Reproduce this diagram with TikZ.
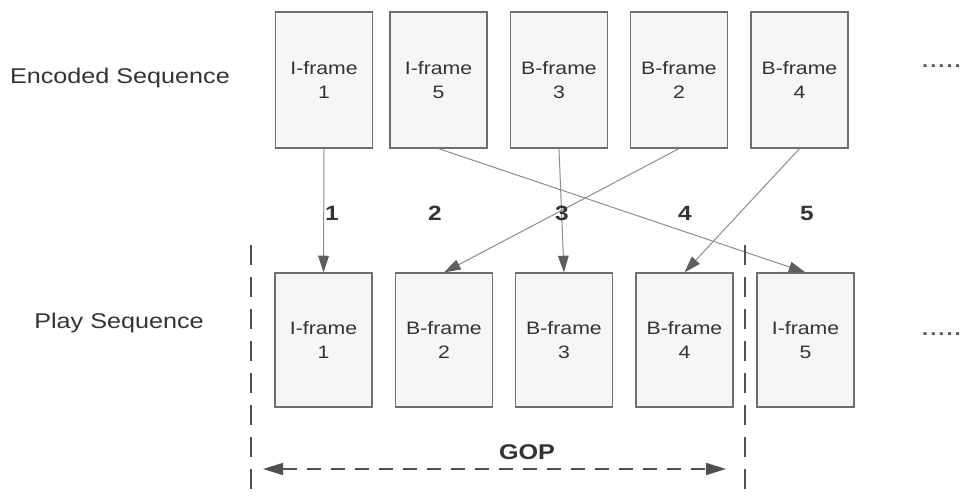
\documentclass[tikz,border=0pt]{standalone}
\usepackage{fontspec}
\setmainfont[FakeStretch=1.18]{Liberation Sans}
\usetikzlibrary{arrows.meta}
\definecolor{boxfill}{HTML}{F6F6F6}
\definecolor{boxline}{HTML}{6E6E6E}
\definecolor{linkline}{HTML}{8C8C8C}
\definecolor{headfill}{HTML}{5E5E5E}
\definecolor{ink}{HTML}{333333}
\definecolor{gopline}{HTML}{505050}
\definecolor{dotink}{HTML}{555555}

\begin{document}
\begin{tikzpicture}[x=0.75pt,y=-0.75pt,
  frame/.style={draw=boxline, line width=0.9pt, fill=boxfill,
    minimum width=72.75pt, inner sep=0pt, align=center, text=ink,
    font=\fontsize{13.5}{18.5}\selectfont},
  codedframe/.style={frame, minimum height=102pt},
  playframe/.style={frame, minimum height=100.5pt},
  link/.style={draw=linkline, line width=0.75pt,
    -{Triangle[length=12.5pt,width=8pt,color=headfill]}},
  order/.style={text=ink, font=\fontsize{15.5}{18}\selectfont\bfseries},
  rowlabel/.style={text=ink, font=\fontsize{16}{19}\selectfont},
  more/.style={text=dotink, anchor=east, inner sep=0pt,
    font=\fontsize{14}{16}\selectfont\bfseries},
  gopfence/.style={draw=gopline, line width=1.4pt, dash pattern=on 15pt off 9pt},
  gopspan/.style={draw=gopline, line width=1.1pt, dash pattern=on 10.5pt off 7.5pt,
    {Triangle[length=15pt,width=9pt]}-{Triangle[length=15pt,width=9pt]}},
]
\useasboundingbox (0,0) rectangle (964,500);

% encoded (transmission) order
\node[rowlabel] (enc) at (120,78) {Encoded Sequence};
\node[codedframe] (e1) at (324,80)   {I-frame\\1};
\node[codedframe] (e2) at (438.5,80) {I-frame\\5};
\node[codedframe] (e3) at (559,80)   {B-frame\\3};
\node[codedframe] (e4) at (679,80)   {B-frame\\2};
\node[codedframe] (e5) at (799.5,80) {B-frame\\4};
\node[more] (encmore) at (961,66) {.\kern1.5pt.\kern1.5pt.\kern1.5pt.\kern1.5pt.};

% display order
\node[rowlabel] (play) at (119,323) {Play Sequence};
\node[playframe] (p1) at (323.5,340) {I-frame\\1};
\node[playframe] (p2) at (444,340)   {B-frame\\2};
\node[playframe] (p3) at (564,340)   {B-frame\\3};
\node[playframe] (p4) at (684.5,340) {B-frame\\4};
\node[playframe] (p5) at (805.5,340) {I-frame\\5};
\node[more] (playmore) at (961,334) {.\kern1.5pt.\kern1.5pt.\kern1.5pt.\kern1.5pt.};

% reordering links
\draw[link] (e1.south) -- (p1.north);
\draw[link] (e2.south) -- (p5.north);
\draw[link] (e3.south) -- (p3.north);
\draw[link] (e4.south) -- (p2.north);
\draw[link] (e5.south) -- (p4.north);

% display positions
\node[order] (n1) at (332,213) {1};
\node[order] (n2) at (435,213) {2};
\node[order] (n3) at (562,213) {3};
\node[order] (n4) at (685,213) {4};
\node[order] (n5) at (807,213) {5};

% group of pictures
\coordinate (gopTL) at (251,245);
\coordinate (gopBL) at (251,500);
\coordinate (gopTR) at (745,245);
\coordinate (gopBR) at (745,500);
\draw[gopfence] (gopTL) -- (gopBL);
\draw[gopfence] (gopTR) -- (gopBR);
\coordinate (spanL) at (263,469);
\coordinate (spanR) at (726,469);
\draw[gopspan] (spanL) -- (spanR);
\node[order, font=\fontsize{16}{19}\selectfont\bfseries] (gop) at (527,452) {GOP};
\end{tikzpicture}
\end{document}
